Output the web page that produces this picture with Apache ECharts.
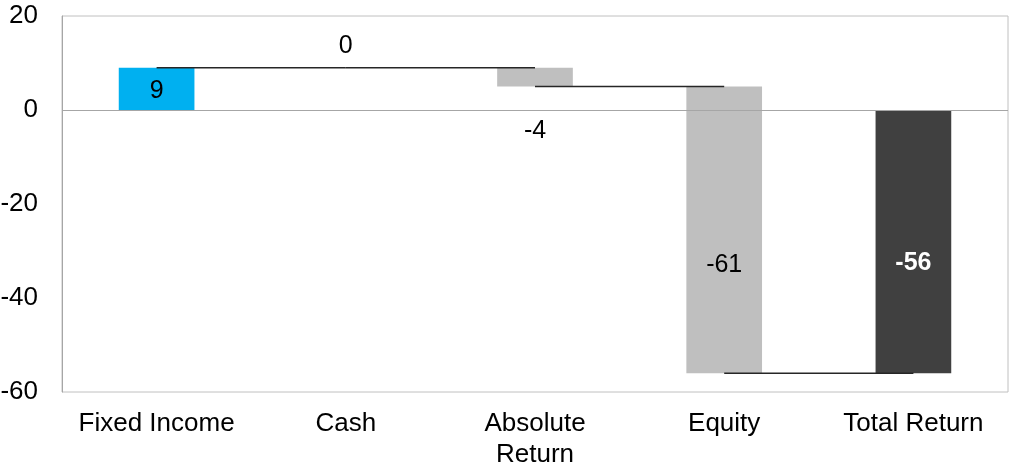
<!DOCTYPE html>
<html>
<head>
<meta charset="utf-8">
<script src="https://cdn.jsdelivr.net/npm/echarts@6/dist/echarts.min.js"></script>
<style>
  html, body { margin: 0; padding: 0; background: #fff; }
  #chart { width: 1010px; height: 465px; }
</style>
</head>
<body>
<div id="chart"></div>
<script>
// Return contributions by asset class, ending in the total
const categories = ['Fixed Income', 'Cash', 'Absolute\nReturn', 'Equity', 'Total Return'];
const contributions = [9, 0, -4, -61, -56];
const isTotal = [false, false, false, false, true];
const yTicks = [-60, -40, -20, 0, 20];

// Styling per bar
const barColors = ['#00B0F0', '#BFBFBF', '#BFBFBF', '#BFBFBF', '#404040'];
const labelColors = ['#000', '#000', '#000', '#000', '#fff'];
const labelWeights = ['normal', 'normal', 'normal', 'normal', 'bold'];
// where each value label sits: anchor on the bar and a pixel shift
const labelAnchor = ['middle', 'top', 'bottom', 'middle', 'middle'];
const labelShift = [2, -22, 45, 35, 22];

const FONT = '"Liberation Sans", Arial, Helvetica, sans-serif';

// Floating bar spans: each step starts where the previous one ended
const spans = [];
const connectors = [];
let running = 0;
contributions.forEach((v, i) => {
  let start, end;
  if (isTotal[i]) { start = 0; end = v; }
  else { start = running; end = running + v; running = end; }
  spans.push([i, start, end, v]);
});
for (let i = 0; i < spans.length - 1; i++) {
  connectors.push([i, spans[i][2]]);
}

const chart = echarts.init(document.getElementById('chart'), null, { renderer: 'canvas' });

chart.setOption({
  animation: false,
  backgroundColor: '#fff',
  textStyle: { fontFamily: FONT },
  grid: {
    left: 62, right: 2, top: 16, bottom: 73,
    containLabel: false,
    outerBoundsMode: 'none',
    show: true, borderColor: '#C0C0C0', borderWidth: 1, backgroundColor: 'transparent'
  },
  xAxis: {
    type: 'category',
    data: categories,
    boundaryGap: true,
    axisLine: { show: false },
    axisTick: { show: false },
    splitLine: { show: false },
    axisLabel: {
      interval: 0, fontSize: 26, color: '#000', fontFamily: FONT,
      margin: 16, lineHeight: 31
    }
  },
  yAxis: {
    type: 'value',
    min: yTicks[0], max: yTicks[yTicks.length - 1], interval: 20,
    axisLine: { show: true, lineStyle: { color: '#A6A6A6', width: 1 } },
    axisTick: { show: false },
    splitLine: { show: false },
    axisLabel: { fontSize: 26, color: '#000', fontFamily: FONT, margin: 24 }
  },
  series: [
    {
      name: 'bars',
      type: 'custom',
      z: 2,
      data: spans,
      encode: { x: 0, y: [1, 2] },
      renderItem: function (params, api) {
        const i = api.value(0);
        const s = api.value(1), e = api.value(2), v = api.value(3);
        const p1 = api.coord([i, s]);
        const p2 = api.coord([i, e]);
        const w = api.size([1, 0])[0] * 0.4;
        const top = Math.min(p1[1], p2[1]);
        const bottom = Math.max(p1[1], p2[1]);
        let ty;
        if (labelAnchor[i] === 'top') ty = top + labelShift[i];
        else if (labelAnchor[i] === 'bottom') ty = bottom + labelShift[i];
        else ty = (top + bottom) / 2 + labelShift[i];
        return {
          type: 'group',
          children: [
            {
              type: 'rect',
              shape: { x: p1[0] - w / 2, y: top, width: w, height: bottom - top },
              style: { fill: barColors[i] }
            },
            {
              type: 'text',
              z2: 100,
              style: {
                x: p1[0], y: ty,
                text: String(v),
                align: 'center', verticalAlign: 'middle',
                fill: labelColors[i],
                fontWeight: labelWeights[i],
                fontSize: 25,
                fontFamily: FONT
              }
            }
          ]
        };
      }
    },
    {
      name: 'connectors',
      type: 'custom',
      z: 3,
      data: connectors,
      encode: { x: 0, y: 1 },
      renderItem: function (params, api) {
        const i = api.value(0);
        const level = api.value(1);
        const a = api.coord([i, level]);
        const b = api.coord([i + 1, level]);
        return {
          type: 'line',
          shape: { x1: a[0], y1: a[1], x2: b[0], y2: b[1] },
          style: { stroke: '#262626', lineWidth: 1.5 }
        };
      },
      markLine: {
        silent: true,
        symbol: 'none',
        label: { show: false },
        lineStyle: { color: '#A6A6A6', width: 1, type: 'solid' },
        data: [{ yAxis: 0 }]
      }
    }
  ]
});
</script>
</body>
</html>
